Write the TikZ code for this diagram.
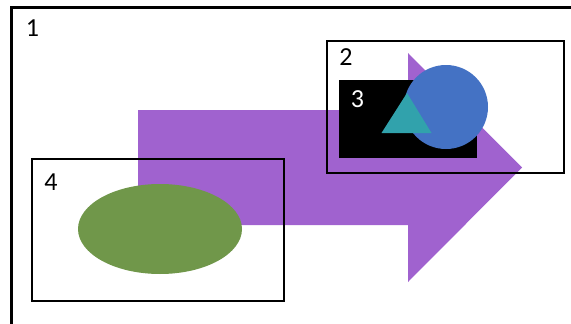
\documentclass[tikz,border=0pt]{standalone}
\usepackage{fontspec}
\setmainfont{Carlito}
\usetikzlibrary{positioning}
\definecolor{arrowpurple}{RGB}{160,98,207}
\definecolor{leafgreen}{RGB}{112,151,74}
\definecolor{discblue}{RGB}{68,114,196}
\definecolor{triteal}{RGB}{49,162,172}
\tikzset{
  frame/.style={draw=black, line width=2pt},
  numlabel/.style={inner sep=0pt, font=\fontsize{26}{26}\selectfont}
}

\begin{document}
\begin{tikzpicture}[x=1pt, y=-1pt]
    \useasboundingbox (0,0) rectangle (571,324);
    \clip (0,0) rectangle (571,324);
    % outer frame 1
    \draw[line width=2.5pt] (11.5,7.5) rectangle (620,360);
    \node[numlabel] (one) at (32.5,28.5) {1};
    % big purple arrow
    \fill[arrowpurple] (138,110) -- (408,110) -- (408,53) -- (522,167.5)
        -- (408,282) -- (408,225) -- (138,225) -- cycle;
    % frame 4 with ellipse
    \draw[frame] (32,159) rectangle (284,300.5);
    \fill[leafgreen] (160,229) ellipse [x radius=82, y radius=45];
    \node[numlabel] (four) at (51,182.5) {4};
    % frame 2 with black box, disc and triangle
    \draw[frame] (327,40.5) rectangle (564,173);
    \node[numlabel] (two) at (346,57) {2};
    \fill[black] (339,80) rectangle (477,158);
    \fill[discblue] (446,107) circle [radius=42];
    \fill[triteal] (407,93) -- (431.5,133) -- (381.5,133) -- cycle;
    \node[numlabel, text=white] (three) at (357.5,99.5) {3};
\end{tikzpicture}
\end{document}
